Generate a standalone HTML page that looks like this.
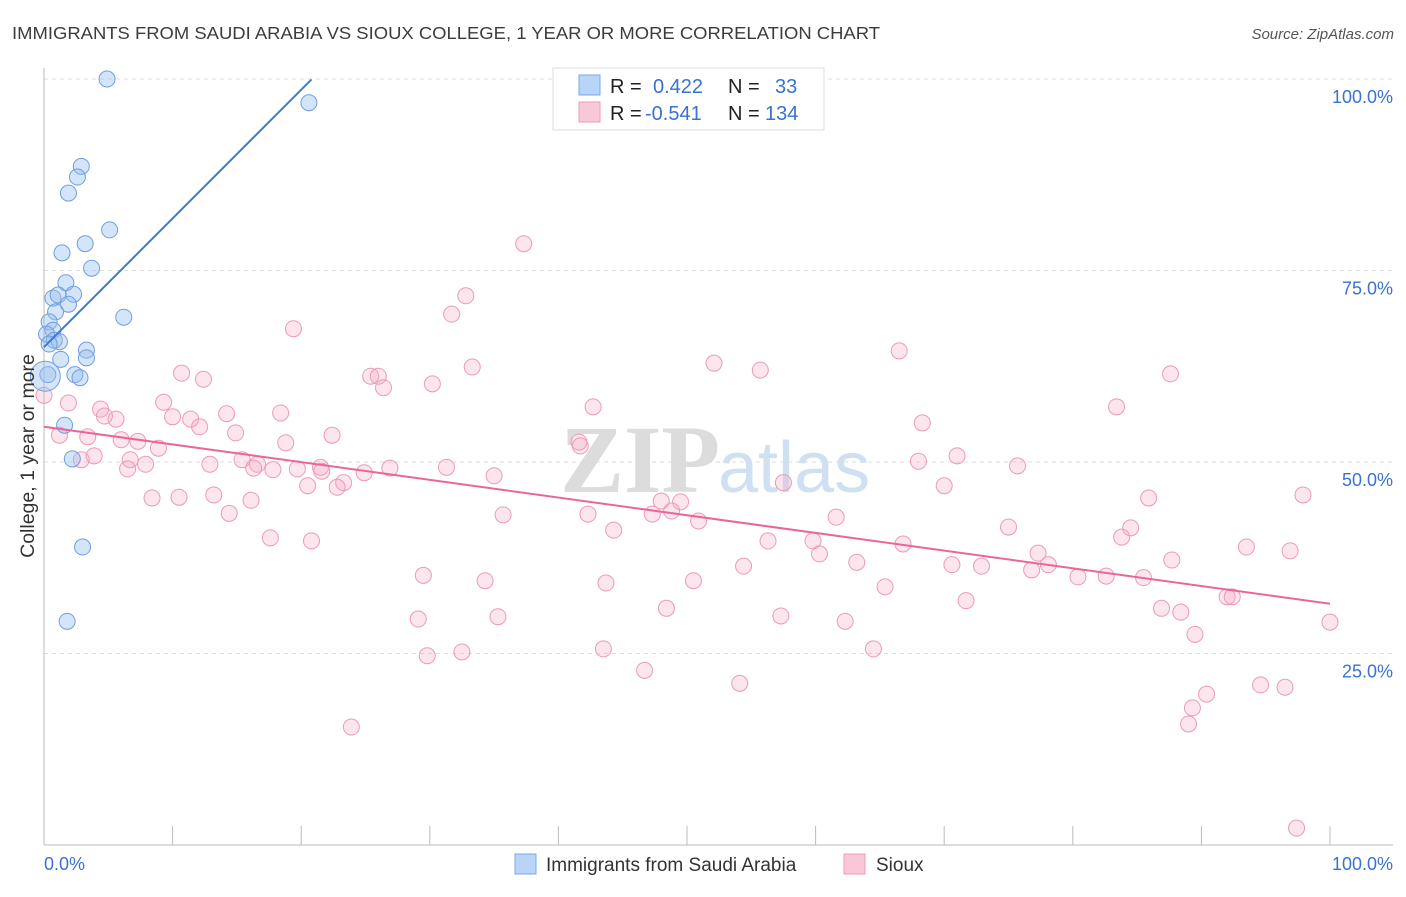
<!DOCTYPE html>
<html><head><meta charset="utf-8"><style>
body{margin:0;background:#fff;font-family:"Liberation Sans",sans-serif}
#wrap{position:relative;width:1406px;height:892px}
</style></head><body>
<div id="wrap">
<svg id="svg" width="1406" height="892">
<text x="12" y="39" font-size="17.5" fill="#3c3c3c" textLength="868" lengthAdjust="spacingAndGlyphs">IMMIGRANTS FROM SAUDI ARABIA VS SIOUX COLLEGE, 1 YEAR OR MORE CORRELATION CHART</text>
<text x="1394" y="39" font-size="15" fill="#555" text-anchor="end" font-style="italic">Source: ZipAtlas.com</text>
<text x="720" y="492" font-size="96" fill="#dcdcdc" text-anchor="end" font-family="Liberation Serif" font-weight="bold">ZIP</text>
<text x="718" y="492" font-size="72" fill="#cfe0f3">atlas</text>
<g id="grid"></g><g id="axes"></g><g id="pts"></g><g id="lines"></g>
<text transform="translate(34,456) rotate(-90)" font-size="19.5" fill="#333" text-anchor="middle">College, 1 year or more</text>
<g>
<rect x="553" y="68" width="271" height="62" fill="#fff" stroke="#ddd"/>
<rect x="579" y="75" width="21" height="20" fill="#b8d4f6" stroke="#7aaae6"/>
<rect x="579" y="102" width="21" height="20" fill="#f9c8d8" stroke="#ee9ab8"/>
<text x="610" y="93" font-size="20" fill="#222">R = </text><text x="653" y="93" font-size="20" fill="#3a72d0">0.422</text>
<text x="728" y="93" font-size="20" fill="#222">N = </text><text x="775" y="93" font-size="20" fill="#3a72d0">33</text>
<text x="610" y="120" font-size="20" fill="#222">R = </text><text x="645" y="120" font-size="20" fill="#3a72d0">-0.541</text>
<text x="728" y="120" font-size="20" fill="#222">N = </text><text x="765" y="120" font-size="20" fill="#3a72d0">134</text>
</g>
<g>
<rect x="515" y="854" width="21" height="20" fill="#b8d4f6" stroke="#7aaae6"/>
<text x="546" y="871" font-size="19" fill="#333">Immigrants from Saudi Arabia</text>
<rect x="844" y="854" width="21" height="20" fill="#f9c8d8" stroke="#ee9ab8"/>
<text x="876" y="871" font-size="19" fill="#333">Sioux</text>
</g>
</svg></div>
<script>
const blueX=[4.9,20.6,2.9,2.6,1.9,5.1,3.2,1.4,3.7,1.7,0.7,2.3,1.1,1.9,0.9,6.2,0.4,0.7,0.2,0.8,1.2,0.4,3.3,1.3,3.3,2.4,2.8,0.3,1.6,2.2,3.0,1.8,0.1];
const blueY=[100,96.9,88.6,87.2,85.1,80.3,78.5,77.3,75.3,73.4,71.4,71.9,71.8,70.6,69.6,68.9,68.3,67.2,66.7,65.9,65.7,65.4,64.6,63.4,63.6,61.4,61.0,61.4,54.8,50.4,38.9,29.2,61.2];
const pinkX=[37.3,32.8,31.7,19.4,66.5,52.1,33.3,10.7,25.4,26.0,55.7,87.6,12.4,26.4,30.2,0,1.9,9.3,4.4,42.7,83.4,14.2,18.4,10.0,5.6,4.7,11.4,12.1,68.3,14.9,22.4,1.2,3.4,6.0,7.3,41.6,18.8,41.7,8.9,71.0,3.9,2.9,15.4,6.7,7.9,12.9,68.0,16.6,16.3,6.5,17.8,19.7,21.5,21.6,26.9,31.3,75.7,24.9,35.0,57.5,20.5,23.3,22.8,70.0,8.4,10.5,13.2,16.1,48.0,49.5,97.9,85.9,14.4,35.7,42.3,47.3,48.8,50.9,61.6,44.3,75.0,84.5,83.8,17.6,20.8,56.3,59.8,66.8,60.3,77.3,93.5,96.9,87.7,78.1,63.2,70.6,54.4,72.9,76.8,29.5,34.3,43.7,50.5,80.4,82.6,85.5,65.4,92.0,92.4,71.7,86.9,88.4,48.4,29.1,35.3,57.3,62.3,100,89.5,43.5,32.5,64.5,29.8,46.7,54.1,94.6,96.5,90.4,89.3,23.9,89.0,97.4];
const pinkY=[78.5,71.7,69.3,67.4,64.5,62.9,62.4,61.6,61.2,61.2,62.0,61.5,60.8,59.7,60.2,58.7,57.7,57.8,56.9,57.2,57.2,56.3,56.4,55.9,55.6,56.0,55.6,54.6,55.1,53.8,53.5,53.5,53.3,52.9,52.7,52.6,52.5,52.1,51.8,50.8,50.8,50.3,50.3,50.3,49.7,49.7,50.1,49.7,49.2,49.1,49.0,49.1,49.3,48.8,49.2,49.3,49.5,48.6,48.2,47.3,46.9,47.3,46.7,46.9,45.3,45.4,45.7,45.0,44.9,44.8,45.7,45.3,43.3,43.1,43.2,43.2,43.6,42.3,42.8,41.1,41.5,41.4,40.2,40.1,39.7,39.7,39.7,39.3,38.0,38.1,38.9,38.4,37.2,36.6,36.9,36.6,36.4,36.4,35.9,35.2,34.5,34.2,34.5,35.0,35.1,34.9,33.7,32.4,32.4,31.9,30.9,30.4,30.9,29.5,29.8,29.9,29.2,29.1,27.5,25.6,25.2,25.6,24.7,22.8,21.1,20.9,20.6,19.7,17.9,15.4,15.8,2.2];
const blueTrend=[65.0,1.68]; // intercept, slope
const pinkTrend=[54.6,-0.231];
const yTicks=[100,75,50,25];
const yTickLabels=["100.0%","75.0%","50.0%","25.0%"];
const xTicks=[0,10,20,30,40,50,60,70,80,90,100];
const NS="http://www.w3.org/2000/svg";
const sx=v=>44+v*12.86, sy=v=>845-v*7.66;
function mk(t,a,p){const e=document.createElementNS(NS,t);for(const k in a)e.setAttribute(k,a[k]);document.getElementById(p).appendChild(e);return e;}
yTicks.forEach((t,i)=>{
 const l=mk('line',{x1:44,x2:1393,y1:sy(t),y2:sy(t),stroke:'#ddd','stroke-dasharray':'4,4'},'grid');
 
 
 const tx=mk('text',{x:1393,y:sy(t)+24,'font-size':18,fill:'#3a72d0','text-anchor':'end'},'grid');
 tx.textContent=yTickLabels[i];
 
 
});
let a=mk('line',{x1:44,x2:44,y1:68,y2:845,stroke:'#bbb'},'axes');


a=mk('line',{x1:44,x2:1393,y1:845,y2:845,stroke:'#bbb'},'axes');


xTicks.forEach(t=>{const l=mk('line',{x1:sx(t),x2:sx(t),y1:826,y2:845,stroke:'#bbb'},'axes');
 
 });
let t0=mk('text',{x:44,y:870,'font-size':18,fill:'#3a72d0'},'axes');t0.textContent='0.0%';


t0=mk('text',{x:1393,y:870,'font-size':18,fill:'#3a72d0','text-anchor':'end'},'axes');t0.textContent='100.0%';


pinkX.forEach((x,i)=>{const c=mk('circle',{cx:sx(x),cy:sy(pinkY[i]),r:8,fill:'rgba(244,170,196,0.3)',stroke:'#ec9ab8','stroke-width':1},'pts');
 
 });
blueX.forEach((x,i)=>{const c=mk('circle',{cx:sx(x),cy:sy(blueY[i]),r:i==32?15:8,fill:'rgba(150,190,240,0.4)',stroke:'#6f9fdc','stroke-width':1},'pts');
 
 });
let L=mk('line',{x1:sx(0),y1:sy(blueTrend[0]),x2:sx(20.8),y2:sy(blueTrend[0]+blueTrend[1]*20.8),stroke:'#3a7bd8','stroke-width':2},'lines');


L=mk('line',{x1:sx(0),y1:sy(pinkTrend[0]),x2:sx(100),y2:sy(pinkTrend[0]+pinkTrend[1]*100),stroke:'#e8679a','stroke-width':2},'lines');


</script>
</body></html>
